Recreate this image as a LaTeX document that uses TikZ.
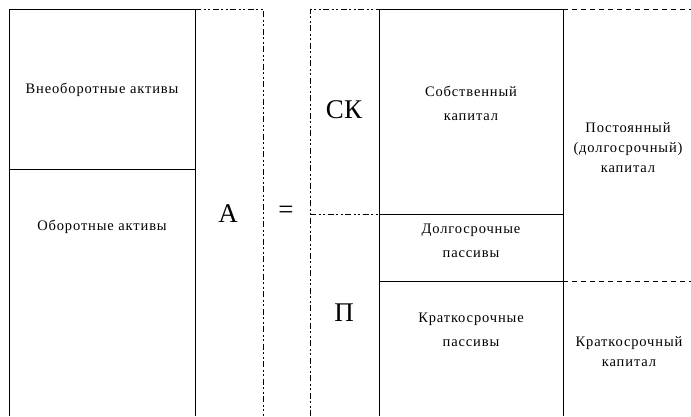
\documentclass[tikz,border=0pt]{standalone}
\usepackage{fontspec}
\setmainfont{Liberation Serif}
\begin{document}
\begin{tikzpicture}[x=1pt,y=-1pt,
  boxline/.style={line width=1pt},
  dashdot/.style={line width=0.9pt, dash pattern=on 6pt off 2.5pt on 2pt off 2.5pt on 2pt off 2.5pt},
  dashline/.style={line width=0.9pt, dash pattern=on 5pt off 4pt},
  lbl/.style={font=\fontsize{14.5}{24}\selectfont\addfontfeature{LetterSpace=6}, align=center, inner sep=0pt},
  lblr/.style={lbl, font=\fontsize{14.5}{20}\selectfont\addfontfeature{LetterSpace=6}},
  big/.style={font=\fontsize{27}{30}\selectfont, inner sep=0pt}]
\useasboundingbox (0,0) rectangle (691,416);

% assets column
\draw[boxline] (9.5,416) -- (9.5,9) -- (195,9) -- (195,416);
\draw[boxline] (9.5,169) -- (195,169);
\node[lbl] (nca) at (102,90) {Внеоборотные активы};
\node[lbl] (ca) at (102,227) {Оборотные активы};

% the equation between the two sides
\draw[dashdot] (195,9) -- (263,9) -- (263,416);
\node[big] (assets) at (228,214) {А};
\node[big] (eq) at (286,212) {=};
\draw[dashdot] (310,416) -- (310,9) -- (379,9);
\draw[dashdot] (310,214) -- (379,214);
\node[big] (equity) at (344,110) {СК};
\node[big] (liab) at (344,313) {П};

% liabilities column
\draw[boxline] (379,416) -- (379,9) -- (563,9) -- (563,416);
\draw[boxline] (379,214) -- (563,214);
\draw[boxline] (379,281) -- (563,281);
\node[lbl] (own) at (471,103) {Собственный\\капитал};
\node[lbl] (ltl) at (471,241) {Долгосрочные\\пассивы};
\node[lbl] (stl) at (471,330) {Краткосрочные\\пассивы};

% capital grouping
\draw[dashline] (563,9) -- (691,9);
\draw[dashline] (563,281) -- (691,281);
\node[lblr] (perm) at (628,148) {Постоянный\\(долгосрочный)\\капитал};
\node[lblr] (short) at (629,352) {Краткосрочный\\капитал};
\end{tikzpicture}
\end{document}
